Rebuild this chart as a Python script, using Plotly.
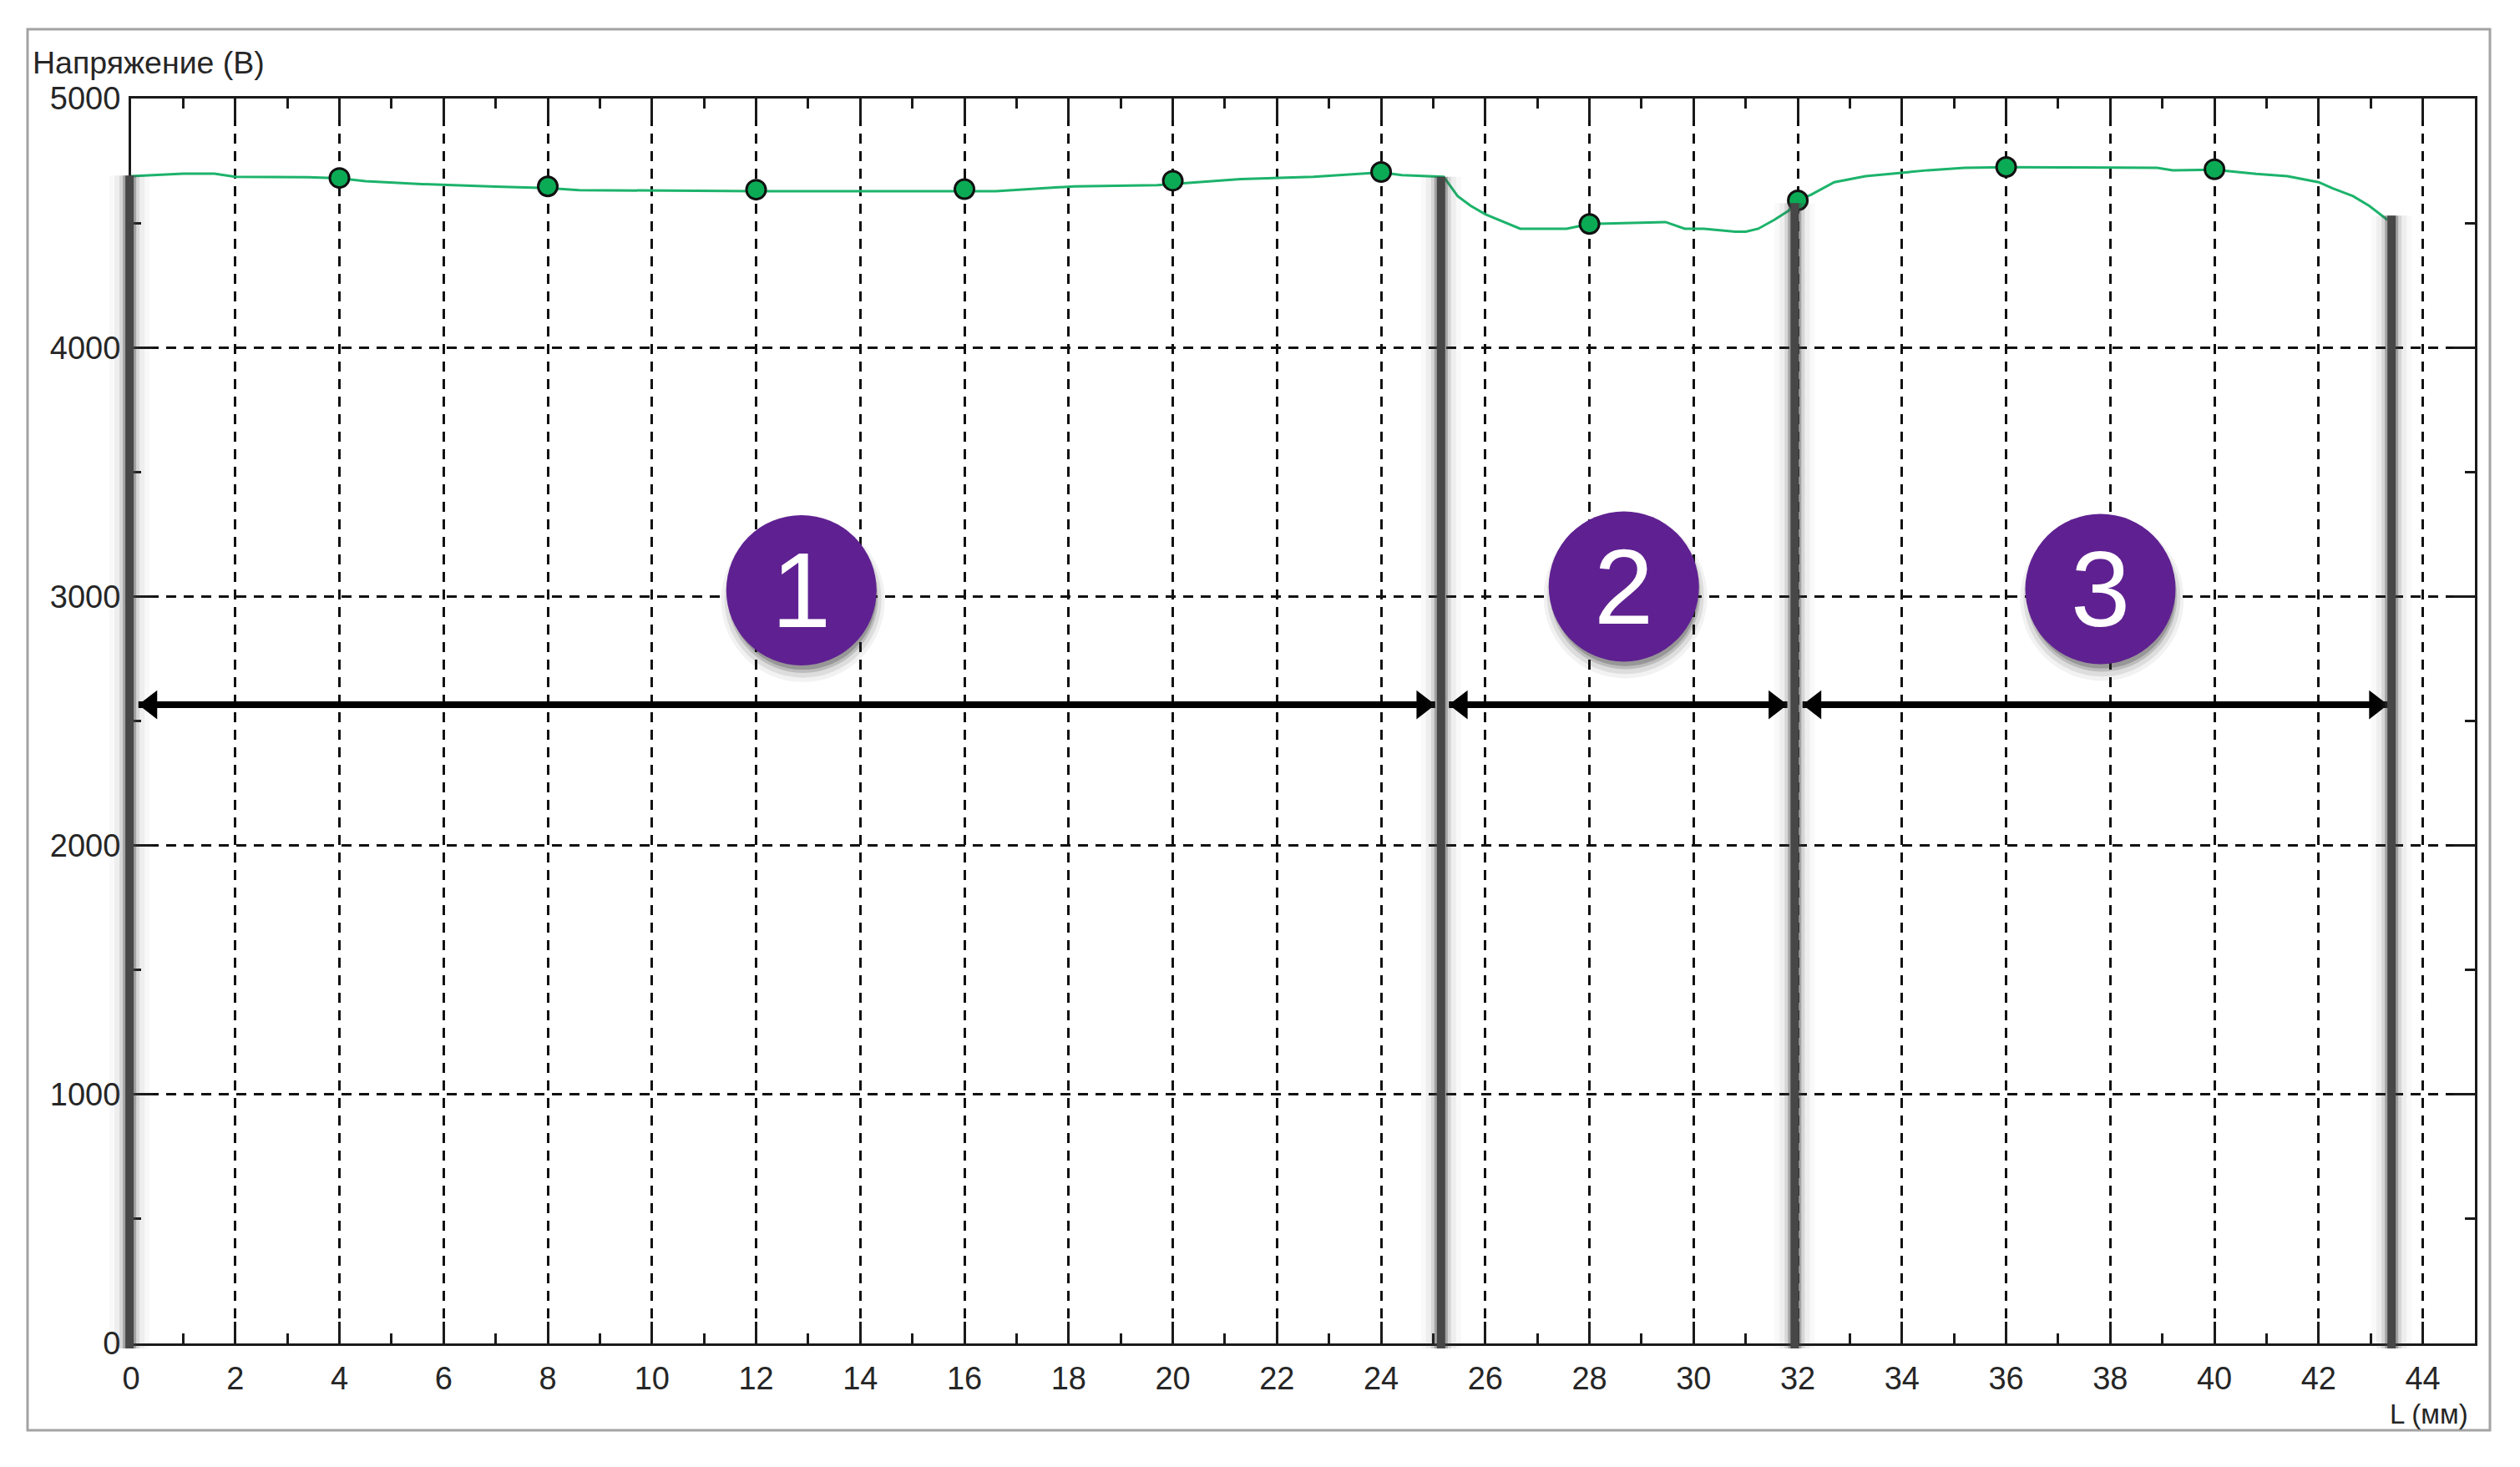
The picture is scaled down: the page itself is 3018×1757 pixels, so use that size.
"""Voltage along the length: three zones with numbered badges."""

import plotly.graph_objects as go

# curve
curve_x = [0, 1, 1.6, 2, 3.4, 4, 4.5, 5.5, 7, 8, 8.6, 12, 16.6, 18.1, 19.7, 20.5, 21.3, 22.7,
           23.7, 24, 24.4, 25.2, 25.47, 25.72, 26, 26.4, 26.67, 27.56, 28, 29.46, 29.83, 30.2,
           30.8, 31, 31.24, 31.55, 31.82, 32, 32.25, 32.7, 33.3, 34.5, 35.2, 36, 38.9, 39.2,
           40, 40.8, 41.4, 42, 42.27, 42.66, 42.97, 43.32]
curve_y = [4688, 4698, 4698, 4686, 4684, 4680, 4668, 4657, 4646, 4640, 4632, 4628, 4628, 4647,
           4652, 4663, 4676, 4686, 4700, 4703, 4692, 4686, 4608, 4569, 4535, 4499, 4477, 4477,
           4496, 4504, 4477, 4477, 4465, 4465, 4477, 4513, 4549, 4591, 4613, 4664, 4688, 4712,
           4722, 4724, 4722, 4712, 4714, 4697, 4688, 4664, 4639, 4608, 4569, 4513]

marker_x = [4, 8, 12, 16, 20, 24, 28, 32, 36, 40]
marker_y = [4681, 4647, 4634, 4636, 4670, 4705, 4496, 4591, 4725, 4716]

# zone boundaries: x position, top value
boundary_x = [-0.03, 25.15, 31.94, 43.4]
boundary_top = [4691, 4686, 4580, 4530]

# zone arrows: start, end, height
arrow_start = [0.14, 25.3, 32.09]
arrow_end = [25.04, 31.8, 43.33]
arrow_y = [2565, 2565, 2565]

badge_x = [12.87, 28.66, 37.81]
badge_y = [3025, 3040, 3030]
badge_text = ["1", "2", "3"]

x_ticks = list(range(0, 45, 2))
y_ticks = [0, 1000, 2000, 3000, 4000, 5000]
X_MAX, Y_MAX = 45, 5000

WIDTH, HEIGHT = 3018, 1757
PAGE_MARGIN = 8  # the page puts the figure 8px in from the corner
LEFT, RIGHT, TOP, BOTTOM = 157, 2964, 118, 1609
TEXT = "#262626"
FONT = "Liberation Sans"


def paper_x(px):
    return (px - LEFT) / (RIGHT - LEFT)


def paper_y(py):
    return (BOTTOM - py) / (BOTTOM - TOP)


fig = go.Figure()

# --- Curve and points ---
fig.add_trace(go.Scatter(x=curve_x, y=curve_y, mode="lines",
                         line=dict(color="#1cb36b", width=3), showlegend=False))
fig.add_trace(go.Scatter(x=marker_x, y=marker_y, mode="markers", showlegend=False,
                         marker=dict(color="#0bab55", size=23, line=dict(color="#111111", width=3))))

# --- Boundaries: paper refs so the soft edge can spill past the axes ---
for bx, top in zip(boundary_x, boundary_top):
    for w, col in [(48, "rgba(70,70,70,0.03)"), (36, "rgba(70,70,70,0.06)"),
                   (24, "rgba(70,70,70,0.14)"), (16, "rgba(70,70,70,0.35)"), (10, "#474747")]:
        fig.add_shape(type="line", xref="paper", yref="paper", layer="above",
                      x0=bx / X_MAX, x1=bx / X_MAX, y0=-0.004, y1=top / Y_MAX,
                      line=dict(color=col, width=w))

# --- Badges ---
for size, a, shift in [(196, 0.06, 40), (188, 0.10, 36), (180, 0.18, 30), (176, 0.25, 24)]:
    fig.add_trace(go.Scatter(x=[v + 0.03 for v in badge_x], y=[v - shift for v in badge_y],
                             mode="markers", hoverinfo="skip", showlegend=False,
                             marker=dict(color=f"rgba(40,40,40,{a})", size=size)))
fig.add_trace(go.Scatter(x=badge_x, y=badge_y, mode="markers", showlegend=False,
                         marker=dict(color="#5f2191", size=180)))
for bx, by, label in zip(badge_x, badge_y, badge_text):
    fig.add_annotation(x=bx, y=by, text=label, showarrow=False, xanchor="center", yanchor="middle",
                       font=dict(family=FONT, size=128, color="white"))

# --- Arrows ---
for x0, x1, ay in zip(arrow_start, arrow_end, arrow_y):
    fig.add_trace(go.Scatter(x=[x0, x1], y=[ay, ay], mode="lines", showlegend=False,
                             line=dict(color="black", width=8)))
head_px = 15 / 62.39  # triangle centre sits this far behind the tip
fig.add_trace(go.Scatter(x=[v + head_px for v in arrow_start], y=arrow_y, mode="markers",
                         showlegend=False, marker=dict(symbol="triangle-left", color="black", size=30)))
fig.add_trace(go.Scatter(x=[v - head_px for v in arrow_end], y=arrow_y, mode="markers",
                         showlegend=False, marker=dict(symbol="triangle-right", color="black", size=30)))

# --- Window frame and axis captions ---
fig.add_shape(type="rect", xref="paper", yref="paper", layer="below",
              x0=paper_x(33), x1=paper_x(2982), y0=paper_y(1713), y1=paper_y(35),
              line=dict(color="#a3a3a3", width=3), fillcolor="white")
fig.add_annotation(xref="paper", yref="paper", x=paper_x(37), y=paper_y(75), text="Напряжение (В)",
                   xanchor="left", yanchor="middle", showarrow=False,
                   font=dict(family=FONT, size=37.5, color=TEXT))
fig.add_annotation(xref="paper", yref="paper", x=paper_x(2958), y=paper_y(1693), text="L (мм)",
                   xanchor="right", yanchor="middle", showarrow=False,
                   font=dict(family=FONT, size=33, color=TEXT))

axis_style = dict(
    showline=True, linecolor="#1a1a1a", linewidth=3, mirror="allticks",
    ticks="inside", ticklen=26, tickwidth=3, tickcolor="#1a1a1a",
    showgrid=True, gridcolor="#111111", gridwidth=2.5, griddash="12px,9px",
    zeroline=False,
    tickfont=dict(family=FONT, size=38, color=TEXT),
)
fig.update_xaxes(range=[0, X_MAX], tickvals=x_ticks, ticklabelstandoff=6,
                 minor=dict(dtick=1, tick0=0, ticks="inside", ticklen=12, tickwidth=3,
                            tickcolor="#1a1a1a", showgrid=False),
                 **axis_style)
fig.update_yaxes(range=[0, Y_MAX], tickvals=y_ticks, ticklabelstandoff=2,
                 minor=dict(dtick=500, tick0=0, ticks="inside", ticklen=12, tickwidth=3,
                            tickcolor="#1a1a1a", showgrid=False),
                 **axis_style)

fig.update_layout(width=WIDTH - PAGE_MARGIN, height=HEIGHT - PAGE_MARGIN, autosize=False,
                  margin=dict(l=LEFT - PAGE_MARGIN, r=WIDTH - RIGHT, t=TOP - PAGE_MARGIN,
                              b=HEIGHT - BOTTOM, pad=0),
                  paper_bgcolor="white", plot_bgcolor="rgba(0,0,0,0)", showlegend=False)

fig.write_html("out.html")
